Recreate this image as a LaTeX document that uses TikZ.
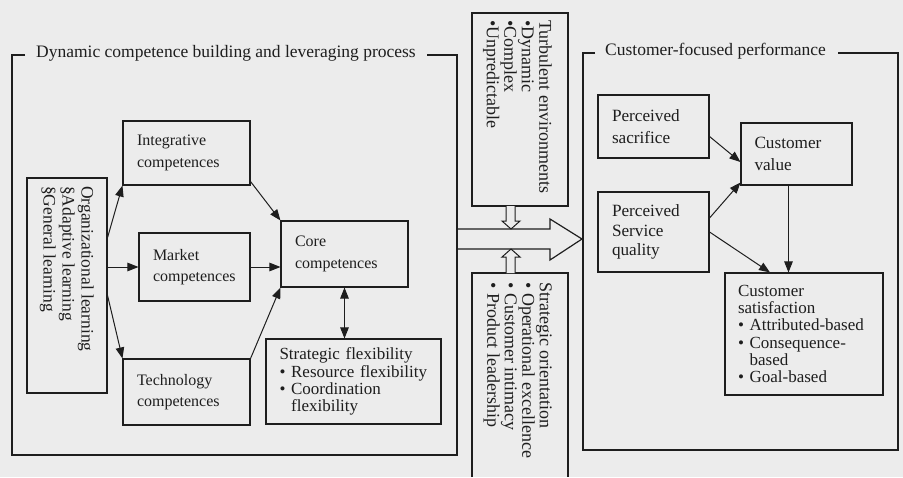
\documentclass[tikz,border=0pt]{standalone}
\usepackage{fontspec}
\setmainfont{Liberation Serif}
\usetikzlibrary{arrows.meta,calc}
\definecolor{bg}{RGB}{236,236,236}
\definecolor{ink}{RGB}{30,30,30}
\begin{document}
\begin{tikzpicture}[x=1pt,y=-1pt,
  line/.style={draw=ink,line width=1.1pt},
  box/.style={draw=ink,line width=1.1pt,rectangle,inner xsep=14pt,inner ysep=0pt,
    align=left,font=\fontsize{16}{21.5}\selectfont,text=ink},
  rbox/.style={box,font=\fontsize{17.2}{21.5}\selectfont},
  lst/.style={font=\fontsize{17}{17.3}\selectfont},
  emptybox/.style={draw=ink,line width=1.1pt,rectangle,inner sep=0pt},
  rot/.style={rotate=-90,inner sep=0pt,align=left,text=ink,font=\fontsize{18}{17.5}\selectfont,anchor=north west},
  ttl/.style={anchor=mid west,inner sep=0pt,text=ink,font=\fontsize{17.5}{20}\selectfont},
  arr/.style={draw=ink,line width=1pt,-{Triangle[length=11pt,width=8.5pt]}},
  darr/.style={draw=ink,line width=1pt,{Triangle[length=11pt,width=8.5pt]}-{Triangle[length=11pt,width=8.5pt]}}
]
\useasboundingbox (0,0) rectangle (903,477);
\fill[bg] (0,0) rectangle (903,477);

% left frame
\draw[line] (25,55) -- (12,55) -- (12,455) -- (457,455) -- (457,55) -- (427,55);
\node[ttl] (t1) at (36,55) {Dynamic competence building and leveraging process};

% right frame
\draw[line] (595,53) -- (583,53) -- (583,450) -- (898,450) -- (898,53) -- (838,53);
\node[ttl] (t2) at (605,53) {Customer-focused performance};

% organizational learning
\node[emptybox,minimum width=80pt,minimum height=215pt] (org) at (67,285.5) {};
\node[rot,font=\fontsize{17.5}{19}\selectfont] (orgtxt) at (94,186) {Organizational learning\\§Adaptive learning\\§General learning};

% competences
\node[box,text width=99pt,minimum height=64pt] (int) at (186.5,153) {Integrative\\competences};
\node[box,text width=83pt,minimum height=68pt] (mkt) at (194.5,267) {Market\\competences};
\node[box,text width=99pt,minimum height=66pt] (tec) at (186.5,392) {Technology\\competences};
\node[box,text width=99pt,minimum height=66pt] (core) at (344.5,254) {Core\\competences};
\node[box,lst,text width=148pt,inner xsep=13.5pt,minimum height=85pt] (flex) at (353.5,381.5) {\mbox{Strategic flexibility}\\\mbox{\textbullet\ Resource flexibility}\\\mbox{\textbullet\ Coordination}\\\mbox{\hphantom{\textbullet\ }flexibility}};

% arrows left
\draw[arr] ([yshift=48pt]org.east) -- (int.south west);
\draw[arr] (org.east |- mkt.west) -- (mkt.west);
\draw[arr] ([yshift=-10pt]org.east) -- (tec.north west);
\draw[arr] ([yshift=4pt]int.south east) -- (core.north west);
\draw[arr] (mkt.east) -- (mkt.east -| core.west);
\draw[arr] (tec.north east) -- (core.south west);
\draw[darr] (core.south) -- (core.south |- flex.north);

% middle
\node[emptybox,minimum width=96pt,minimum height=193pt] (turb) at (520,109.5) {};
\node[rot] (turbtxt) at (552,20) {Turbulent environments\\\textbullet Dynamic\\\textbullet Complex\\\textbullet Unpredictable};
\draw[line] (472,477) -- (472,273) -- (568,273) -- (568,477);
\node[rot] (strattxt) at (552,282) {Strategic orientation\\\textbullet\ Operational excellence\\\textbullet\ Customer intimacy\\\textbullet\ Product leadership};

% big arrow
\draw[line,line width=1.2pt] (457,229) -- (550,229) -- (550,219) -- (582,239) -- (550,260) -- (550,249) -- (457,249);
% hollow arrows
\draw[line,line width=1pt,fill=bg] (506,206) -- (506,221) -- (502,221) -- (511,229) -- (520,221) -- (515,221) -- (515,206);
\draw[line,line width=1pt,fill=bg] (506,273) -- (506,257) -- (502,257) -- (511,249) -- (520,257) -- (515,257) -- (515,273);

% right boxes
\node[rbox,text width=83pt,minimum height=63pt] (sac) at (653.5,126.5) {Perceived\\sacrifice};
\node[rbox,text width=84pt,inner xsep=13.5pt,minimum height=62pt] (val) at (796.5,154) {Customer\\value};
\node[rbox,text width=83pt,minimum height=80pt,font=\fontsize{17.2}{19.5}\selectfont] (svc) at (653.5,232) {Perceived\\Service\\quality};
\node[box,lst,text width=132pt,inner xsep=13pt,minimum height=122pt] (sat) at (804,334) {Customer\\satisfaction\\\mbox{\textbullet\ Attributed-based}\\\mbox{\textbullet\ Consequence-}\\\mbox{\hphantom{\textbullet\ }based}\\\mbox{\textbullet\ Goal-based}};

% arrows right
\draw[arr] ([yshift=-10pt]sac.east) -- ([yshift=-8pt]val.west);
\draw[arr] ([yshift=14pt]svc.east) -- ([yshift=3pt]val.south west);
\draw[arr] (svc.east) -- ([xshift=-34pt]sat.north);
\draw[arr] ([xshift=-8pt]val.south) -- ([xshift=-8pt]val.south |- sat.north);
\end{tikzpicture}
\end{document}
